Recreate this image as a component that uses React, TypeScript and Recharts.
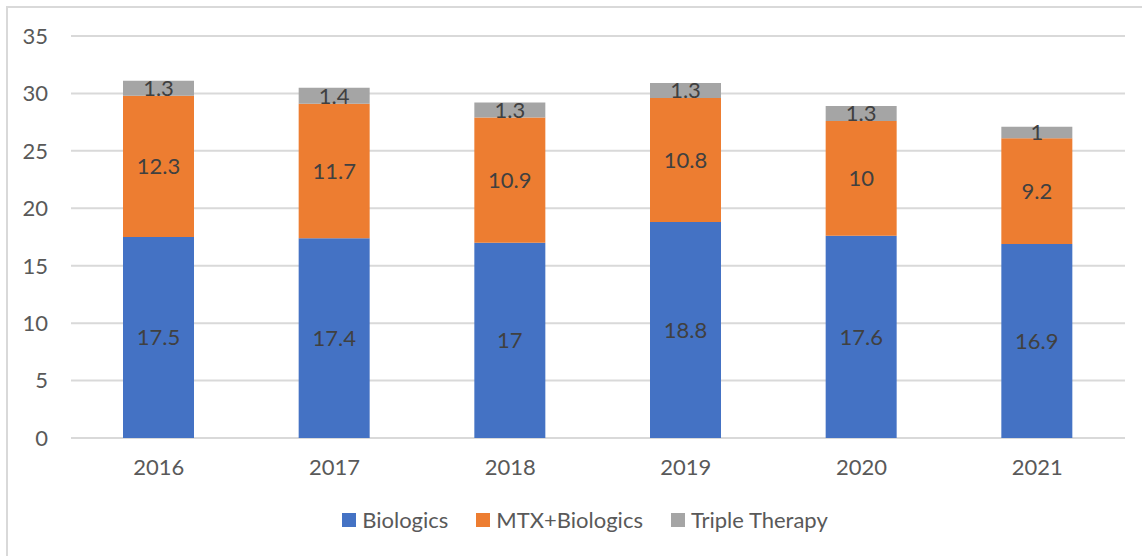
import React from 'react';
import { BarChart, Bar, XAxis, YAxis, CartesianGrid, Legend, LabelList } from 'recharts';

const years = ['2016', '2017', '2018', '2019', '2020', '2021'];
const biologics = [17.5, 17.4, 17, 18.8, 17.6, 16.9];
const mtxBiologics = [12.3, 11.7, 10.9, 10.8, 10, 9.2];
const tripleTherapy = [1.3, 1.4, 1.3, 1.3, 1.3, 1];
const yTicks = [0, 5, 10, 15, 20, 25, 30, 35];

const series = [
  { key: 'biologics', name: 'Biologics', color: '#4472C4' },
  { key: 'mtx', name: 'MTX+Biologics', color: '#ED7D31' },
  { key: 'triple', name: 'Triple Therapy', color: '#A5A5A5' },
];

const data = years.map((year, i) => ({
  year,
  biologics: biologics[i],
  mtx: mtxBiologics[i],
  triple: tripleTherapy[i],
}));

const FONT = 'Lato, "Open Sans", sans-serif';
const TEXT = '#595959';
const SIZE = 22;

const renderLegend = () => (
  <div style={{ display: 'flex', justifyContent: 'center', alignItems: 'center', paddingLeft: 28, fontFamily: FONT, fontSize: SIZE, color: TEXT }}>
    {series.map((s) => (
      <div key={s.key} style={{ display: 'flex', alignItems: 'center', margin: '0 14px' }}>
        <span style={{ width: 14, height: 14, background: s.color, display: 'inline-block', marginRight: 6 }} />
        <span>{s.name}</span>
      </div>
    ))}
  </div>
);

export default function App() {
  return (
    <div style={{ position: 'relative', width: 1142, height: 556, overflow: 'hidden', background: '#fff' }}>
      <style>{'body{margin:0}'}</style>
      <div style={{ position: 'absolute', left: 6, top: 6, width: 1200, height: 600, border: '2px solid #D9D9D9' }} />
      <BarChart
        width={1142}
        height={556}
        data={data}
        margin={{ top: 36, right: 17, bottom: 0, left: 0 }}
        style={{ position: 'absolute', left: 0, top: 0 }}
      >
        <CartesianGrid vertical={false} stroke="#D9D9D9" strokeWidth={2} />
        <XAxis
          dataKey="year"
          axisLine={false}
          tickLine={false}
          tickSize={0}
          tickMargin={21}
          height={88}
          tick={{ fill: TEXT, fontSize: SIZE, fontFamily: FONT }}
        />
        <YAxis
          width={71}
          domain={[0, 35]}
          ticks={yTicks}
          axisLine={false}
          tickLine={false}
          tickSize={0}
          tickMargin={23}
          tick={{ fill: TEXT, fontSize: SIZE, fontFamily: FONT }}
        />
        <Legend
          content={renderLegend}
          wrapperStyle={{ position: 'absolute', top: 506, left: 0, width: 1142, height: 30 }}
        />
        {series.map((s) => (
          <Bar key={s.key} dataKey={s.key} name={s.name} stackId="a" fill={s.color} barSize={71} isAnimationActive={false}>
            <LabelList dataKey={s.key} position="center" fill="#404040" fontSize={SIZE} fontFamily={FONT} />
          </Bar>
        ))}
      </BarChart>
    </div>
  );
}
